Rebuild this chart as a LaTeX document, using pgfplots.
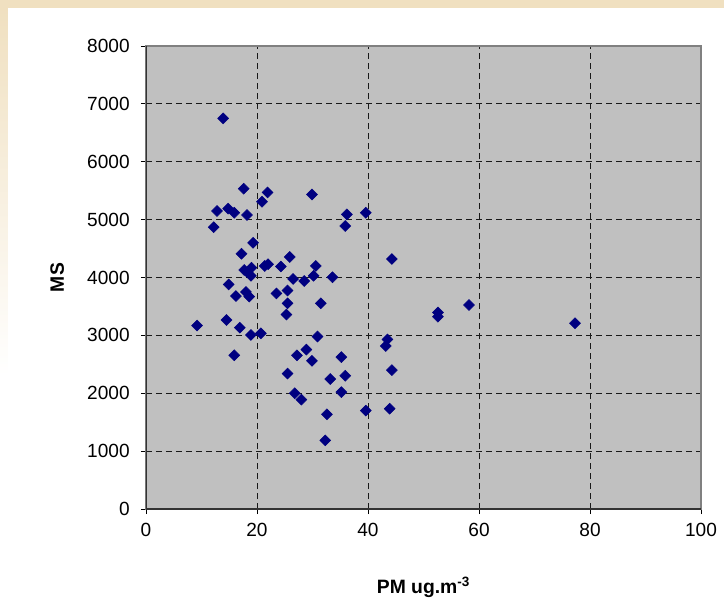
\documentclass[border=0pt]{standalone}
\usepackage{pgfplots}
\pgfplotsset{compat=1.18}
\usepackage{fontspec}
\setmainfont{Liberation Sans}
\definecolor{plotgray}{RGB}{192,192,192}
\definecolor{navy}{RGB}{0,0,128}
\definecolor{cream}{RGB}{240,224,192}

\begin{document}
\begin{tikzpicture}
% page frame: 724 x 601 px, 1 px = 0.75pt, origin at the axis' lower left corner
\path[use as bounding box] (-109.5pt,-69pt) rectangle (433.5pt,381.75pt);
\fill[white] (-109.5pt,-69pt) rectangle (433.5pt,381.75pt);
\fill[cream] (-109.5pt,375.75pt) rectangle (433.5pt,381.75pt);
\shade[top color=cream, bottom color=white] (-109.5pt,100pt) rectangle (-103.5pt,375.75pt);

\begin{axis}[
    at={(0pt,0pt)}, anchor=south west,
    scale only axis,
    width=416.25pt, height=347.25pt,
    xmin=0, xmax=100,
    ymin=0, ymax=8000,
    xtick={0,20,...,100},
    ytick={0,1000,...,8000},
    xtick pos=left, ytick pos=left,
    tick align=outside,
    major tick length=3.75pt,
    tick style={black, line width=0.6pt},
    grid=major,
    major grid style={black!90, line width=0.6pt, dash pattern=on 4.5pt off 3pt},
    axis background/.style={fill=plotgray},
    axis line style={draw=black!50, line width=1.2pt},
    font=\fontsize{14.3}{16}\selectfont,
    /pgf/number format/assume math mode=true,
    /pgf/number format/1000 sep={},
    xticklabel style={yshift=-3pt},
    yticklabel style={xshift=-5pt},
    xlabel={\textbf{PM ug.m\textsuperscript{-3}}},
    ylabel={\textbf{MS}},
    xlabel style={at={(axis description cs:0.5,-0.17)}, anchor=center, font=\fontsize{14.5}{16}\selectfont},
    ylabel style={at={(axis description cs:-0.160,0.5)}, anchor=center, font=\fontsize{14.5}{16}\selectfont},
]
\addplot[only marks, mark=square*, mark size=2.9pt, mark options={rotate=45, fill=navy, draw=navy}] coordinates {
(13.9,6750) (17.6,5535) (21.9,5470) (29.9,5435) (20.9,5310)
(12.8,5150) (14.8,5190) (15.9,5120) (18.2,5080) (12.2,4870)
(36.2,5090) (39.6,5120) (35.9,4890) (19.3,4600) (17.2,4410)
(25.9,4355) (44.3,4320) (17.7,4130) (19.0,4170) (18.9,4030)
(18.3,4090) (21.4,4200) (22.0,4230) (24.3,4190) (30.6,4200)
(26.5,3975) (28.5,3940) (30.2,4030) (33.6,4005) (14.9,3880)
(16.2,3680) (18.0,3750) (18.6,3670) (23.5,3725) (25.5,3775)
(25.5,3554) (31.5,3554) (25.3,3360) (52.6,3395) (52.6,3323)
(58.2,3525) (77.3,3210) (9.2,3170) (14.5,3266) (16.9,3133)
(18.9,3007) (20.7,3036) (15.9,2656) (30.9,2980) (43.5,2930)
(43.2,2817) (28.9,2755) (27.2,2655) (29.9,2560) (35.2,2625)
(25.5,2340) (44.3,2400) (33.2,2245) (35.9,2303) (26.8,2000)
(28.0,1890) (35.2,2020) (39.6,1700) (43.9,1733) (32.6,1636)
(32.3,1186)
};
% darker left and bottom axis lines
\draw[black!80, line width=0.9pt] (rel axis cs:0,1) -- (rel axis cs:0,0) -- (rel axis cs:1,0);
\end{axis}
\end{tikzpicture}
\end{document}
